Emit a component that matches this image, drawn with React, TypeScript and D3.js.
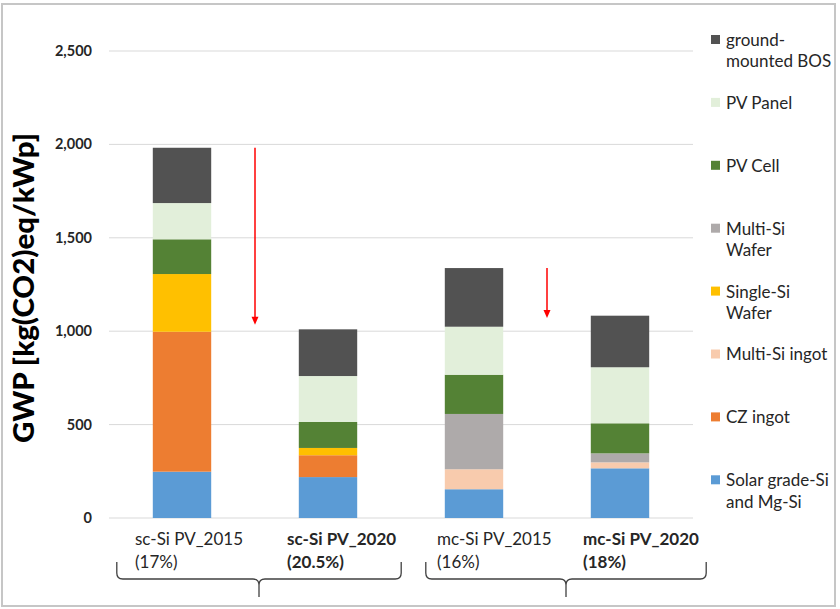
import React from "react";
import * as d3 from "d3";

const categories = ["sc-Si PV_2015", "sc-Si PV_2020", "mc-Si PV_2015", "mc-Si PV_2020"];
const efficiencies = ["(17%)", "(20.5%)", "(16%)", "(18%)"];
const boldCategory = [false, true, false, true];

const seriesNames = [
  "Solar grade-Si and Mg-Si",
  "CZ ingot",
  "Multi-Si ingot",
  "Single-Si Wafer",
  "Multi-Si Wafer",
  "PV Cell",
  "PV Panel",
  "ground-mounted BOS",
];
const legendLines = [
  ["Solar grade-Si", "and Mg-Si"],
  ["CZ ingot"],
  ["Multi-Si ingot"],
  ["Single-Si", "Wafer"],
  ["Multi-Si", "Wafer"],
  ["PV Cell"],
  ["PV Panel"],
  ["ground-", "mounted BOS"],
];
const seriesColors = ["#5b9bd5", "#ed7d31", "#f8cbad", "#ffc000", "#aeaaaa", "#548235", "#e2efda", "#525252"];

const solarGrade = [248, 219, 154, 266];
const czIngot = [749, 117, 0, 0];
const multiIngot = [0, 0, 107, 32];
const singleWafer = [309, 39, 0, 0];
const multiWafer = [0, 0, 296, 48];
const pvCell = [186, 139, 210, 161];
const pvPanel = [194, 246, 257, 300];
const bos = [296, 250, 314, 276];

const yTicks = [0, 500, 1000, 1500, 2000, 2500];
const arrowPairs = [
  [0, 1],
  [2, 3],
];
const arrowEnds = [1035, 1070];
const braceGroups = [
  [0, 1],
  [2, 3],
];

const FONT = "Lato, 'Open Sans', sans-serif";

export default function App() {
  const W = 840;
  const H = 609;
  const x = d3.scaleBand<string>().domain(categories).range([109, 693]).paddingInner(0.6).paddingOuter(0.3);
  const y = d3.scaleLinear().domain([0, 2500]).range([518, 51]);
  const fmt = d3.format(",");

  const allSeries = [solarGrade, czIngot, multiIngot, singleWafer, multiWafer, pvCell, pvPanel, bos];
  const table = categories.map((c, i) => {
    const row: Record<string, number | string> = { cat: c };
    seriesNames.forEach((s, k) => (row[s] = allSeries[k][i]));
    return row;
  });
  const stacked = d3.stack<any>().keys(seriesNames)(table);
  const totals = categories.map((_, i) => allSeries.reduce((a, s) => a + s[i], 0));
  const bw = x.bandwidth();

  const legendTop = 40;
  const legendStep = 62.9;
  const labelShift = [-47, -41, -37, -37];
  const braceInset = [
    [-36, 44],
    [-19, 57],
  ];

  const bracePath = (x0: number, x1: number) => {
    const yTop = 562,
      yMid = 579,
      yTip = 597,
      r = 6;
    const xc = (x0 + x1) / 2;
    return `M${x0},${yTop} L${x0},${yMid - r} Q${x0},${yMid} ${x0 + r},${yMid} L${xc - r},${yMid} Q${xc},${yMid} ${xc},${yMid + r} L${xc},${yTip} M${xc},${yMid + r} Q${xc},${yMid} ${xc + r},${yMid} L${x1 - r},${yMid} Q${x1},${yMid} ${x1},${yMid - r} L${x1},${yTop}`;
  };

  return (
    <svg width={W} height={H} style={{ position: "absolute", left: 0, top: 0, background: "#fff" }} fontFamily={FONT}>
      <rect x={2} y={4} width={833} height={602} fill="#fff" stroke="#c6c6c6" strokeWidth={2} />
      {yTicks.map((t) => (
        <g key={t}>
          <line x1={109} x2={693} y1={y(t)} y2={y(t)} stroke="#d9d9d9" strokeWidth={1} />
          <text x={92} y={y(t)} dy="0.35em" textAnchor="end" fontSize={14.5} fontWeight="bold" fill="#262626">
            {fmt(t)}
          </text>
        </g>
      ))}
      <text
        transform={`translate(34,288) rotate(-90)`}
        textAnchor="middle"
        fontSize={28}
        fontWeight={900}
        fill="#000"
        textLength={310}
        lengthAdjust="spacingAndGlyphs"
      >
        GWP [kg(CO2)eq/kWp]
      </text>
      {stacked.map((layer, k) => (
        <g key={seriesNames[k]} fill={seriesColors[k]}>
          {layer.map((d, i) =>
            d[1] - d[0] > 0 ? (
              <rect key={i} x={x(categories[i])!} width={bw} y={y(d[1])} height={y(d[0]) - y(d[1])} />
            ) : null
          )}
        </g>
      ))}
      {arrowPairs.map(([a, b], j) => {
        const ax = (x(categories[a])! + x(categories[b])! + bw) / 2;
        const y0 = y(totals[a]);
        const y1 = y(arrowEnds[j]);
        return (
          <g key={j}>
            <line x1={ax} x2={ax} y1={y0} y2={y1 - 6} stroke="#ff0000" strokeWidth={1.5} />
            <path d={`M${ax - 3.5},${y1 - 8} L${ax + 3.5},${y1 - 8} L${ax},${y1} Z`} fill="#ff0000" />
          </g>
        );
      })}
      {categories.map((c, i) => {
        const cx = x(c)! + bw / 2 + labelShift[i];
        return (
          <text key={c} x={cx} fontSize={17} fontWeight={boldCategory[i] ? "bold" : "normal"} fill="#262626">
            <tspan x={cx} y={545}>
              {c}
            </tspan>
            <tspan x={cx} y={568}>
              {efficiencies[i]}
            </tspan>
          </text>
        );
      })}
      {braceGroups.map(([a, b], j) => (
        <path
          key={j}
          d={bracePath(x(categories[a])! + braceInset[j][0], x(categories[b])! + bw + braceInset[j][1])}
          fill="none"
          stroke="#404040"
          strokeWidth={1.3}
        />
      ))}
      {seriesNames
        .map((s, k) => ({ s, k }))
        .reverse()
        .map(({ s, k }, idx) => {
          const ly = legendTop + idx * legendStep;
          return (
            <g key={s}>
              <rect x={711} y={ly - 5} width={9} height={9} fill={seriesColors[k]} />
              <text fontSize={17} fill="#262626">
                {legendLines[k].map((ln, li) => (
                  <tspan key={li} x={726} y={ly + li * 21.5} dy="0.35em">
                    {ln}
                  </tspan>
                ))}
              </text>
            </g>
          );
        })}
    </svg>
  );
}
